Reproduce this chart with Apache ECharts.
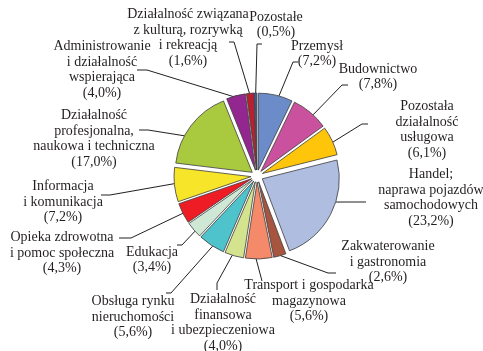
<!DOCTYPE html>
<html>
<head>
<meta charset="utf-8">
<script src="https://cdn.jsdelivr.net/npm/echarts@6/dist/echarts.min.js"></script>
<style>
  html, body { margin: 0; padding: 0; background: #ffffff; }
  #chart { width: 483px; height: 351px; }
</style>
</head>
<body>
<div id="chart"></div>
<script>
// Employment structure by section of the economy (share, %)
const categories = [
  'Przemysł',
  'Budownictwo',
  'Pozostała\ndziałalność\nusługowa',
  'Handel;\nnaprawa pojazdów\nsamochodowych',
  'Zakwaterowanie\ni gastronomia',
  'Transport i gospodarka\nmagazynowa',
  'Działalność\nfinansowa\ni ubezpieczeniowa',
  'Obsługa rynku\nnieruchomości',
  'Edukacja',
  'Opieka zdrowotna\ni pomoc społeczna',
  'Informacja\ni komunikacja',
  'Działalność\nprofesjonalna,\nnaukowa i techniczna',
  'Administrowanie\ni działalność\nwspierająca',
  'Działalność związana\nz kulturą, rozrywką\ni rekreacją',
  'Pozostałe'
];
const shares = [7.2, 7.8, 6.1, 23.2, 2.6, 5.6, 4.0, 5.6, 3.4, 4.3, 7.2, 17.0, 4.0, 1.6, 0.5];
const colors = [
  '#6b8cc8', '#c9519e', '#ffc50a', '#aebde0', '#a85540',
  '#f58a6a', '#d4e38d', '#4fc3cc', '#cfe8d6', '#ee1c25',
  '#f7e52a', '#a9c93e', '#93278f', '#b7202e', '#3a5ea8'
];

// Label placement: centre of each text block
const labelSpots = [
  [317, 54], [378, 77], [427, 130], [431, 198], [388, 262],
  [309, 301], [223, 323], [133, 317], [152, 260], [62, 253],
  [63, 202], [94, 139], [102, 70], [188, 38], [276, 25]
];
// Leader lines: where on the slice rim they start (0..1 along the arc),
// the bend point, and the short end stroke next to the text
const leaderFrac = [0.6, 0.6, 0.55, 0.38, 0.45, 0.6, 0.6, 0.45, 0.4, 0.5, 0.53, 0.35, 0.35, 0.4, 0.5];
const leaderBend = [
  [293, 62], [342, 85], [362, 124], [345, 202], [328, 273],
  [262, 281], [217, 283], [171, 293], [182, 245], [131, 238],
  [110, 195], [148, 130], [147, 70], [234, 42], [257, 44]
];
const leaderEnd = [
  [298, 62], [348, 85], [368, 124], [366, 202], [336, 273],
  [262, 281], [217, 290], [166, 293], [177, 245], [119, 238],
  [101, 195], [139, 130], [137, 70], [229, 42], [262, 44]
];

const PIE_OFFSET = 6;
const LABEL_FONT = 'Times New Roman, Liberation Serif, serif';
const fmt = v => v.toFixed(1).replace('.', ',');

const chart = echarts.init(document.getElementById('chart'), null, { renderer: 'canvas' });
chart.setOption({
  animation: false,
  backgroundColor: '#ffffff',
  series: [{
    type: 'pie',
    center: [257, 176],
    radius: 77,
    startAngle: 90,
    clockwise: true,
    selectedMode: 'multiple',
    selectedOffset: PIE_OFFSET,
    emphasis: { disabled: true },
    itemStyle: { borderColor: '#3c3c3c', borderWidth: 0.8 },
    label: { show: false },
    labelLine: { show: false },
    data: categories.map((name, i) => ({
      name: name,
      value: shares[i],
      selected: true,
      itemStyle: { color: colors[i] }
    }))
  }]
});

// Labels and leader lines, anchored on the slice geometry computed by the pie layout
const pieData = chart.getModel().getSeriesByIndex(0).getData();
const elements = [];
categories.forEach((name, i) => {
  const lay = pieData.getItemLayout(i);
  const mid = (lay.startAngle + lay.endAngle) / 2;
  const a = lay.startAngle + leaderFrac[i] * (lay.endAngle - lay.startAngle);
  const ox = lay.cx + Math.cos(mid) * PIE_OFFSET;
  const oy = lay.cy + Math.sin(mid) * PIE_OFFSET;
  const start = [ox + Math.cos(a) * lay.r, oy + Math.sin(a) * lay.r];
  elements.push({
    type: 'polyline',
    silent: true,
    shape: { points: [start, leaderBend[i], leaderEnd[i]] },
    style: { stroke: '#231f20', lineWidth: 1, fill: null }
  });
  elements.push({
    type: 'text',
    silent: true,
    x: labelSpots[i][0],
    y: labelSpots[i][1],
    style: {
      text: name + '\n(' + fmt(shares[i]) + '%)',
      font: '14px ' + LABEL_FONT,
      fill: '#231f20',
      align: 'center',
      verticalAlign: 'middle',
      lineHeight: 15.5
    }
  });
});
chart.setOption({ graphic: { elements: elements } });
</script>
</body>
</html>
